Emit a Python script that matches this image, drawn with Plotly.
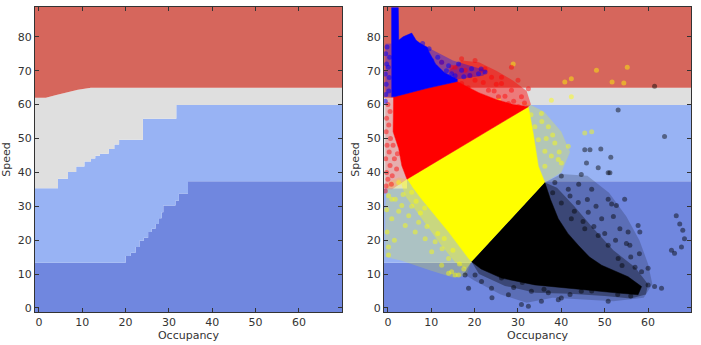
import plotly.graph_objects as go

# ---------------- decision-region boundaries ----------------
# dark-blue / light-blue boundary (step function: value holds from x onward)
lbdb_x = [-5, 20.0, 21.2, 22.3, 23.2, 24.2, 25.2, 26.0, 26.9, 27.7, 28.3, 28.7, 31.5, 32.3, 34.4, 75]
lbdb_y = [13.3, 15.3, 16.3, 18.0, 19.8, 20.7, 22.4, 23.4, 24.8, 26.5, 28.2, 30.2, 31.6, 33.8, 37.4, 37.4]
# light-blue / gray boundary (step function)
gray_x = [-5, 4.4, 6.7, 8.6, 10.5, 12.0, 13.0, 14.1, 16.1, 17.4, 18.5, 24.0, 31.7, 75]
gray_y = [35.3, 38.1, 40.1, 41.7, 43.2, 44.1, 44.9, 45.5, 46.9, 48.2, 49.6, 55.8, 59.9, 59.9]
# gray / red boundary (piecewise linear)
red_x = [-5, 1.6, 4.0, 6.5, 9.0, 12.0, 75]
red_y = [62.0, 62.0, 62.8, 63.6, 64.4, 65.0, 65.0]

REGION_COLORS = ["#7087DF", "#98B3F4", "#DFDFDF", "#D6665C"]

# ---------------- dense cores of the scatter clouds (polygons) ----------------
blue_poly_x = [0.8, 2.4, 2.5, 3.5, 5.5, 6.5, 7.5, 9.0, 9.5, 11.0, 13.0, 16.0, 16.0, 9.0, 1.5, 0.8]
blue_poly_y = [88.6, 88.6, 79.0, 80.0, 81.1, 79.0, 78.0, 77.0, 75.5, 72.0, 69.5, 67.5, 66.8, 64.8, 62.3, 62.3]

red_poly_x = [1.5, 9.0, 16.0, 18.0, 21.0, 25.0, 29.0, 32.4, 4.4, 3.2, 2.5, 1.2, 1.3]
red_poly_y = [62.3, 64.8, 66.8, 65.5, 63.5, 61.5, 60.0, 59.4, 38.0, 42.0, 47.0, 52.0, 62.3]

yellow_poly_x = [4.4, 32.4, 33.5, 34.7, 36.2, 19.3, 18.6, 14.0, 7.8, 5.5]
yellow_poly_y = [38.0, 59.4, 51.6, 41.8, 37.0, 13.6, 14.6, 22.4, 32.1, 36.0]

black_poly_x = [36.2, 37.5, 39.3, 41.5, 43.9, 46.5, 49.3, 55.4, 58.5, 57.7, 53.0, 49.3, 41.6, 33.9, 26.2, 21.5, 19.3]
black_poly_y = [37.0, 32.0, 26.3, 22.0, 18.5, 15.0, 12.6, 9.2, 6.3, 3.9, 4.4, 4.9, 5.8, 6.8, 8.8, 11.5, 13.6]

# ---------------- speckled fringes around the cores (polygons) ----------------
blue_halo_x = [9.0, 12.0, 15.0, 19.0, 23.0, 22.0, 16.0, 13.0, 11.0, 9.5]
blue_halo_y = [77.0, 75.0, 73.0, 71.5, 70.0, 68.5, 67.5, 69.5, 72.0, 75.5]
blue_left_x = [-0.6, 0.8, 0.8, -0.6]
blue_left_y = [62.3, 62.3, 78.0, 78.0]

red_halo_x = [16.0, 14.0, 17.0, 21.0, 25.0, 29.0, 32.0, 33.0, 32.4, 29.0, 25.0, 21.0, 18.0]
red_halo_y = [66.8, 70.0, 73.0, 72.5, 70.0, 67.0, 64.0, 60.0, 59.4, 60.0, 61.5, 63.5, 65.5]
red_left_x = [1.3, -0.6, -0.6, 1.0, 4.4, 3.2, 2.5, 1.2]
red_left_y = [62.3, 62.0, 35.0, 35.0, 38.0, 42.0, 47.0, 52.0]

yellow_left_x = [4.4, 2.5, 0.0, -0.6, -0.6, 3.0, 10.0, 15.0, 18.0, 19.3, 18.6, 14.0, 7.8, 5.5]
yellow_left_y = [38.0, 38.5, 37.0, 30.0, 15.0, 14.0, 11.0, 9.0, 9.5, 13.6, 14.6, 22.4, 32.1, 36.0]
yellow_inner_x = [4.4, 3.0, 4.0, 8.0, 12.0, 15.5, 18.0, 19.3, 18.6, 14.0, 7.8, 5.5]
yellow_inner_y = [38.0, 37.0, 33.0, 26.0, 19.0, 13.5, 11.5, 13.6, 14.6, 22.4, 32.1, 36.0]
yellow_right_x = [32.4, 30.0, 27.0, 32.0, 36.0, 40.0, 42.0, 40.0, 36.2, 34.7, 33.5]
yellow_right_y = [59.4, 61.0, 61.5, 60.5, 58.0, 52.0, 46.0, 40.0, 37.0, 41.8, 51.6]

black_halo_x = [36.2, 40.0, 46.0, 51.0, 55.0, 58.0, 60.0, 61.0, 59.0, 52.0, 45.0, 38.0, 32.0, 26.0, 20.0, 17.5, 19.3]
black_halo_y = [37.0, 39.5, 39.0, 34.0, 27.0, 20.0, 13.0, 7.0, 3.0, 2.0, 2.5, 3.0, 1.5, 4.0, 8.0, 10.0, 13.6]
black_inner_x = [36.2, 39.0, 43.0, 47.0, 52.0, 57.0, 60.0, 59.5, 56.0, 50.0, 42.0, 34.0, 27.0, 21.0, 19.3]
black_inner_y = [37.0, 35.5, 30.0, 24.0, 17.0, 12.0, 7.0, 4.0, 2.8, 3.5, 4.2, 4.5, 6.5, 10.0, 13.6]

# ---------------- sparse points around the cores ----------------
blue_x = [-0.5, -0.4, -0.6, -0.3, -0.5, -0.2, 0.2, 0.3, 0.1, 0.4, -0.6,
          10.1, 12.4, 14.0, 16.3, 17.0, 19.3, 20.9, 22.4, 18.9, 8.6, 7.8, 10.9, 14.7, 12.8,
          9.5, 11.5, 13.5, 15.5, 17.5, 21.5, 8.0, 7.0]
blue_y = [63, 66, 69, 72, 75, 77, 64, 68, 71, 74, 61,
          73.0, 72.5, 71.5, 72.0, 70.1, 70.6, 69.1, 69.6, 68.6, 75.4, 75.9, 71.0, 69.1, 68.1,
          76.5, 74.0, 70.0, 68.5, 68.2, 70.5, 78.0, 77.5]

redpt_x = [15.5, 17.8, 21.6, 23.9, 26.2, 28.5, 30.8, 20.1, 23.2, 25.5, 27.8, 17.0, 19.3, 21.6, 30.1,
           17.0, 20.1, 22.4, 26.2, 28.5, 30.0, 32.4, 14.7, 12.4, 18.5, 22.0, 24.5, 27.0, 29.0, 31.5, 25.0, 19.0,
           -0.4, 0.0, -0.3, 0.5, -0.5, 0.3, -0.2, 0.6, -0.4, 0.2, -0.3, 0.5, 0.0, 1.5, 2.0, 1.0, 2.2, 1.2, -0.6, 0.8]
redpt_y = [71.0, 70.1, 70.1, 68.1, 66.2, 64.2, 62.3, 67.2, 64.2, 62.3, 60.3, 66.2, 63.3, 61.3, 59.4,
           73.5, 73.0, 70.6, 68.1, 71.0, 67.2, 64.7, 71.0, 72.5, 65.0, 66.5, 64.0, 62.5, 61.0, 60.5, 66.0, 68.5,
           36, 38, 40, 42, 44, 46, 48, 50, 52, 54, 56, 58, 60, 44, 41, 39, 45.5, 48, 34.5, 36.5]

yellow_x = [48.1, 55.2, 51.7, 54.4, 40.8, 42.3, 28.9,
            35.4, 37.0, 34.7, 38.5, 37.7, 36.2, 40.0, 41.6, 33.9, 31.6, 29.3, 25.5, 45.4, 36.2, 39.3,
            37.7, 42.3, 47.0, 35.5, 38.0, 39.5, 36.5, 33.0,
            0.15, 1.7, 3.2, 0.9, 4.8, 7.1, 6.3, 8.6, 10.9, 10.1, 14.0, 0.15, 14.7, 16.3, 12.4, 2.5, 5.5,
            -0.2, 0.15, 14.0, 15.5, 4.0, 0.9, 2.5, 5.5, 7.5, 9.0, 11.5, 12.5, 16.5, 17.5, 3.5, 6.5, 8.5,
            13.0, 15.0, -0.3, 1.5]
yellow_y = [70.1, 71.0, 66.7, 66.4, 66.7, 67.6, 72.0,
            57.4, 53.5, 49.6, 48.7, 44.8, 41.8, 42.8, 47.7, 53.5, 55.5, 58.4, 61.3, 51.6, 46.2, 43.8,
            61.3, 62.3, 52.0, 55.0, 51.0, 46.0, 50.0, 57.0,
            33.1, 32.1, 30.2, 26.3, 27.2, 25.3, 22.4, 20.4, 19.5, 16.6, 14.6, 15.6, 10.7, 9.7, 12.6, 37.0, 34.1,
            22.4, 18.0, 10.2, 9.7, 24.3, 32.1, 28.5, 30.0, 28.0, 24.0, 22.0, 17.5, 13.0, 11.5, 33.5, 31.5, 29.5,
            20.5, 17.0, 29.0, 20.0]

black_x = [50.8, 51.6, 48.5, 52.7, 66.5, 67.3, 68.0, 68.4, 67.7, 66.1, 65.4, 57.7, 58.1, 55.4, 54.6,
           55.8, 60.0, 61.5, 63.1, 53.5, 49.3, 46.2, 43.9, 41.6, 40.0, 44.6, 50.8, 47.0, 48.5, 50.8,
           53.1, 45.4, 42.3, 53.1, 63.8, 45.4, 46.6, 49.1, 51.4, 45.8, 51.2, 61.5,
           20.1, 23.9, 27.8, 30.8, 35.4, 40.0, 21.6, 26.2, 18.6, 33.1, 44.6, 50.8, 58.5, 60.0, 32.4,
           39.3, 17.8, 38.5, 42.0, 44.0, 46.0, 48.0, 52.0, 56.0, 57.0, 54.0, 24.0, 29.0, 37.0, 42.0,
           47.0, 53.0, 56.0, 38.0, 40.0, 43.0, 45.0, 47.5, 50.0, 52.5, 55.0, 58.0, 36.0, 31.0]
black_y = [32.1, 30.7, 41.4, 30.2, 27.2, 24.8, 22.9, 20.4, 18.0, 16.1, 17.0, 24.3, 22.4, 22.4, 32.1,
           18.5, 11.7, 6.3, 5.8, 23.4, 26.3, 28.2, 31.1, 35.0, 38.9, 39.4, 39.9, 35.0, 21.4, 18.5,
           14.6, 23.4, 26.3, 58.4, 50.6, 46.7, 46.7, 46.9, 44.5, 42.8, 39.9, 65.4,
           9.7, 5.8, 3.9, 1.0, 2.0, 2.9, 7.8, 8.8, 5.8, 4.9, 4.9, 2.0, 10.7, 6.8, 0.5,
           2.4, 9.7, 37.0, 33.0, 36.5, 32.0, 30.0, 27.0, 15.0, 12.0, 12.5, 3.0, 6.0, 4.5, 4.0,
           5.0, 4.0, 3.5, 34.0, 31.0, 28.5, 25.5, 24.0, 22.0, 20.0, 19.0, 16.0, 5.5, 7.5]

X_TICKS = [0, 10, 20, 30, 40, 50, 60]
Y_TICKS = [0, 10, 20, 30, 40, 50, 60, 70, 80]
X_RANGE = [-0.9, 69.9]
Y_RANGE = [-1.2, 88.8]

fig = go.Figure()


def add_regions(xa, ya):
    base = dict(mode="lines", line=dict(width=0), hoverinfo="skip", showlegend=False, xaxis=xa, yaxis=ya)
    fig.add_trace(go.Scatter(x=[-5, 75], y=[-10, -10], **base))
    fig.add_trace(go.Scatter(x=lbdb_x, y=lbdb_y, fill="tonexty", fillcolor=REGION_COLORS[0],
                             line_shape="hv", **base))
    fig.add_trace(go.Scatter(x=gray_x, y=gray_y, fill="tonexty", fillcolor=REGION_COLORS[1],
                             line_shape="hv", **base))
    fig.add_trace(go.Scatter(x=red_x, y=red_y, fill="tonexty", fillcolor=REGION_COLORS[2], **base))
    fig.add_trace(go.Scatter(x=[-5, 75], y=[100, 100], fill="tonexty", fillcolor=REGION_COLORS[3], **base))


add_regions("x", "y")
add_regions("x2", "y2")

pt = dict(xaxis="x2", yaxis="y2", showlegend=False, hoverinfo="skip")

# speckled fringes (translucent)
for xs, ys, c in [(yellow_left_x, yellow_left_y, "rgba(255,255,0,0.20)"),
                  (yellow_inner_x, yellow_inner_y, "rgba(255,255,0,0.35)"),
                  (yellow_right_x, yellow_right_y, "rgba(255,255,0,0.25)"),
                  (red_halo_x, red_halo_y, "rgba(255,0,0,0.45)"),
                  (red_left_x, red_left_y, "rgba(255,0,0,0.22)"),
                  (blue_halo_x, blue_halo_y, "rgba(0,0,255,0.35)"),
                  (blue_left_x, blue_left_y, "rgba(0,0,255,0.30)"),
                  (black_halo_x, black_halo_y, "rgba(0,0,0,0.18)"),
                  (black_inner_x, black_inner_y, "rgba(0,0,0,0.35)")]:
    fig.add_trace(go.Scatter(x=xs, y=ys, mode="lines", fill="toself", fillcolor=c,
                             line=dict(width=0), **pt))

# sparse points
for xs, ys, c, op in [(yellow_x, yellow_y, "#FFFF00", 0.45), (redpt_x, redpt_y, "#FF0000", 0.45),
                      (blue_x, blue_y, "#0000FF", 0.5), (black_x, black_y, "#000000", 0.45)]:
    fig.add_trace(go.Scatter(x=xs, y=ys, mode="markers",
                             marker=dict(color=c, size=5, opacity=op, line=dict(width=0)), **pt))
# dense cores
for xs, ys, c in [(yellow_poly_x, yellow_poly_y, "#FFFF00"), (red_poly_x, red_poly_y, "#FF0000"),
                  (blue_poly_x, blue_poly_y, "#0000FF"), (black_poly_x, black_poly_y, "#000000")]:
    fig.add_trace(go.Scatter(x=xs, y=ys, mode="lines", fill="toself", fillcolor=c,
                             line=dict(width=0.5, color=c), **pt))

font = dict(family="DejaVu Sans", size=11, color="#333333")
ax_common = dict(showgrid=False, zeroline=False, showline=True, linecolor="#333333", linewidth=1,
                 mirror="ticks", ticks="inside", ticklen=4, tickcolor="#333333", tickfont=font)

fig.update_layout(
    width=701, height=345,
    margin=dict(l=32, r=10, t=6, b=31),
    paper_bgcolor="white", plot_bgcolor="white",
    font=font,
    xaxis=dict(domain=[0, 0.4678], range=X_RANGE, tickvals=X_TICKS, anchor="y",
               title=dict(text="Occupancy", font=font, standoff=2), **ax_common),
    yaxis=dict(domain=[0, 1], range=Y_RANGE, tickvals=Y_TICKS, anchor="x",
               title=dict(text="Speed", font=font, standoff=4), **ax_common),
    xaxis2=dict(domain=[0.532, 1.0], range=X_RANGE, tickvals=X_TICKS, anchor="y2",
                title=dict(text="Occupancy", font=font, standoff=2), **ax_common),
    yaxis2=dict(domain=[0, 1], range=Y_RANGE, tickvals=Y_TICKS, anchor="x2",
                title=dict(text="Speed", font=font, standoff=4), **ax_common),
)

fig.write_html("out.html")
